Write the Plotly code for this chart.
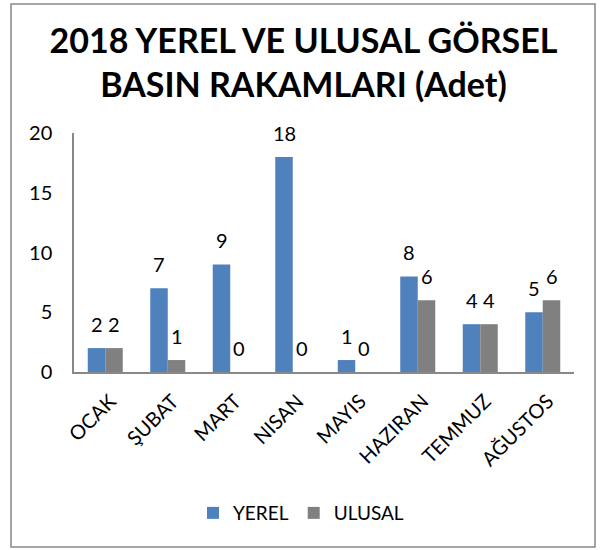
import plotly.graph_objects as go

months = ["OCAK", "ŞUBAT", "MART", "NISAN", "MAYIS", "HAZIRAN", "TEMMUZ", "AĞUSTOS"]
yerel = [2, 7, 9, 18, 1, 8, 4, 5]
ulusal = [2, 1, 0, 0, 0, 6, 4, 6]
y_ticks = [0, 5, 10, 15, 20]

FONT = "Lato, Open Sans, sans-serif"
BAR_HALF = 8.75  # half a bar width in px, to centre labels over grouped bars

fig = go.Figure()
fig.add_trace(go.Bar(
    name="YEREL", x=months, y=yerel, marker=dict(color="#4F81BD", line=dict(width=0)),
))
fig.add_trace(go.Bar(
    name="ULUSAL", x=months, y=ulusal, marker=dict(color="#808080", line=dict(width=0)),
))

annotations = []
for series, shift in ((yerel, -BAR_HALF), (ulusal, BAR_HALF)):
    for m, v in zip(months, series):
        annotations.append(dict(
            x=m, y=v, xref="x", yref="y", text=str(v), showarrow=False,
            xshift=shift, yshift=24, yanchor="middle", xanchor="center",
            font=dict(size=20, color="#000000", family=FONT),
        ))

fig.update_layout(
    width=607, height=550,
    barmode="group", bargap=0.44, bargroupgap=0,
    font=dict(family=FONT, color="#000000"),
    paper_bgcolor="white", plot_bgcolor="white",
    margin=dict(l=74, r=33, t=133, b=178, autoexpand=False),
    title=dict(
        text="<b>2018 YEREL VE ULUSAL GÖRSEL<br>BASIN RAKAMLARI (Adet)</b>",
        x=0.5, xanchor="center", xref="container",
        y=1 - 53 / 550, yanchor="middle", yref="container",
        font=dict(size=34, family=FONT, color="#000000"),
    ),
    legend=dict(
        orientation="h", x=0.454, xanchor="center", y=-0.59, yanchor="middle",
        font=dict(size=19), traceorder="normal",
    ),
    showlegend=True,
    annotations=annotations,
    xaxis=dict(
        tickangle=-45, tickfont=dict(size=20), showline=True, linecolor="#888888",
        linewidth=1.5, ticks="", showgrid=False, automargin=False,
        ticklabelstandoff=8, ticklabelshift=5,
    ),
    yaxis=dict(
        range=[0, 20], tickvals=y_ticks, tickfont=dict(size=20), showline=True,
        linecolor="#888888", linewidth=1.5, showgrid=False, ticks="", zeroline=False,
        ticklabelstandoff=16, automargin=False,
    ),
    shapes=[dict(
        type="rect", xref="paper", yref="paper",
        x0=-0.126, x1=1.042, y0=-0.732, y1=1.54,
        line=dict(color="#888888", width=1.5), fillcolor="rgba(0,0,0,0)",
    )],
)

fig.write_html("out.html", config={"displayModeBar": False},
               post_script="document.body.style.margin='0';")
